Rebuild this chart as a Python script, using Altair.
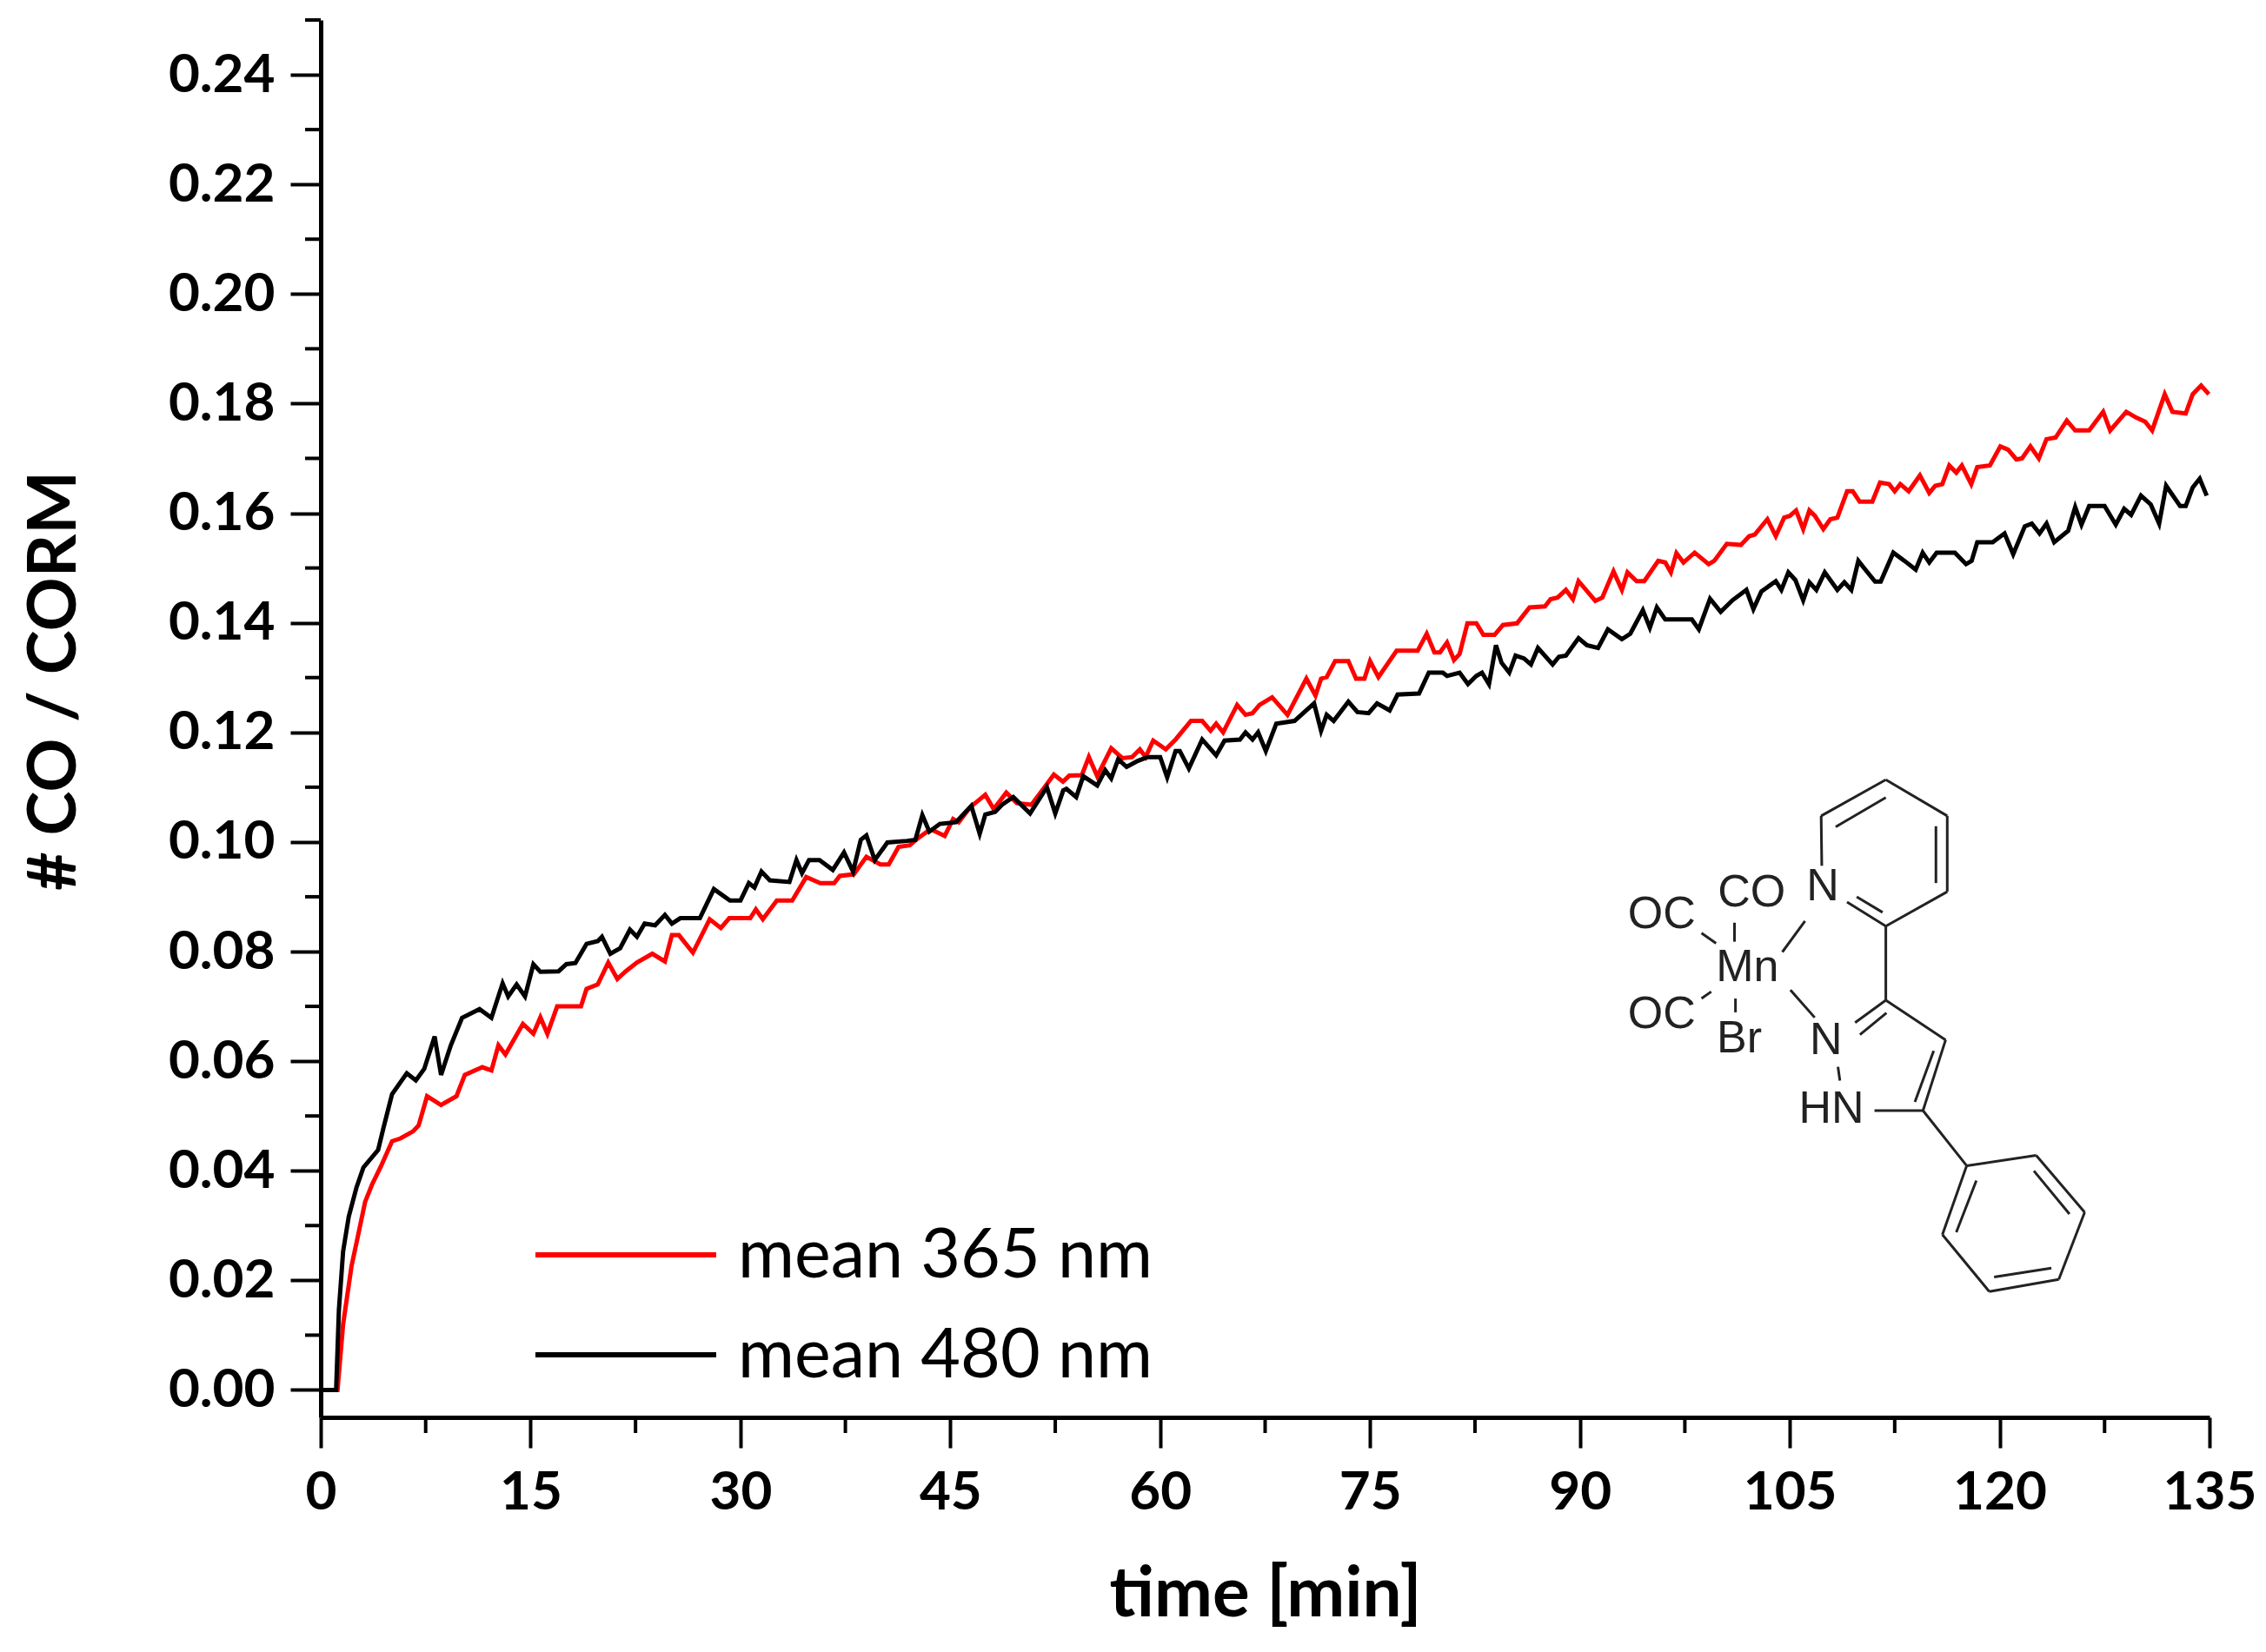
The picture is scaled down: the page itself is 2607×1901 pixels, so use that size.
import altair as alt
import pandas as pd

# ---------------- data ----------------
T_365 = [0, 1.2, 1.6, 2.2, 2.65, 3.17, 3.67, 4.3, 5.1, 5.7, 6.6, 7.0, 7.6, 8.6, 9.7, 10.3, 11.55, 12.2, 12.7, 13.2,
         14.45, 15.2, 15.7, 16.2, 16.9, 18.6, 19.0, 19.8, 20.55, 21.2, 21.8, 22.6, 23.7, 24.6, 25.1, 25.6, 26.6, 27.8,
         28.6, 29.2, 30.7, 31.1, 31.6, 32.6, 33.7, 34.7, 35.7, 36.7, 37.1, 38.1, 39.0, 40.0, 40.6, 41.3, 42.1, 42.7,
         43.3, 43.7, 44.6, 45.2, 45.6, 46.4, 47.5, 48.1, 49.0, 49.75, 50.8, 51.8, 52.4, 53.05, 53.5, 54.4, 54.9, 55.5,
         56.5, 57.3, 58.0, 58.55, 58.96, 59.5, 60.4, 61.1, 62.2, 63.0, 63.6, 64.0, 64.5, 65.5, 66.1, 66.6, 67.1, 68.0,
         69.1, 70.45, 71.1, 71.5, 71.9, 72.5, 73.45, 74.0, 74.6, 75.0, 75.6, 76.9, 78.4, 79.05, 79.6, 80.0, 80.5, 81.0,
         81.4, 81.96, 82.6, 83.1, 83.9, 84.5, 85.5, 86.4, 87.5, 87.9, 88.4, 89.0, 89.5, 89.9, 91.1, 91.6, 92.4, 93.0,
         93.4, 94.05, 94.6, 95.6, 96.1, 96.5, 96.9, 97.4, 98.2, 99.2, 99.6, 100.5, 101.5, 102.1, 102.5, 103.4, 104.0,
         104.6, 105.0, 105.45, 105.96, 106.4, 106.8, 107.4, 107.9, 108.4, 109.1, 109.5, 110.0, 110.9, 111.45, 112.1,
         112.5, 112.9, 113.5, 114.3, 114.97, 115.4, 115.9, 116.4, 116.9, 117.3, 117.97, 118.4, 119.3, 120.05, 120.6,
         121.2, 121.6, 122.2, 122.8, 123.35, 124.0, 124.8, 125.4, 126.4, 127.4, 127.9, 129.05, 129.8, 130.4, 130.9,
         131.8, 132.35, 133.3, 133.8, 134.4, 134.95]
V_365 = [0, 0, 0.012, 0.0226, 0.028, 0.0343, 0.0375, 0.0408, 0.0454, 0.0459, 0.0472, 0.0483, 0.0536, 0.052, 0.0536,
         0.0575, 0.0589, 0.0583, 0.0629, 0.0612, 0.0668, 0.065, 0.068, 0.065, 0.070, 0.070, 0.0732, 0.074, 0.078,
         0.075, 0.0764, 0.078, 0.0796, 0.0782, 0.083, 0.083, 0.0798, 0.0859, 0.0843, 0.0861, 0.0861, 0.0877, 0.0859,
         0.0893, 0.0893, 0.0936, 0.0925, 0.0925, 0.0938, 0.0941, 0.0973, 0.0959, 0.0959, 0.0991, 0.0994, 0.1007,
         0.1018, 0.1022, 0.1011, 0.1042, 0.1036, 0.1063, 0.1086, 0.106, 0.109, 0.1071, 0.1068, 0.1102, 0.1123, 0.111,
         0.1121, 0.1122, 0.1155, 0.112, 0.1171, 0.1153, 0.1155, 0.1169, 0.1155, 0.1185, 0.1169, 0.1187, 0.1221,
         0.1221, 0.1203, 0.1216, 0.120, 0.125, 0.1232, 0.1235, 0.125, 0.1264, 0.1232, 0.1298, 0.1267, 0.1298, 0.1301,
         0.133, 0.133, 0.1298, 0.1298, 0.133, 0.1301, 0.1349, 0.1349, 0.138, 0.1346, 0.1346, 0.1364, 0.1332, 0.1343,
         0.1399, 0.1399, 0.1378, 0.1378, 0.1396, 0.1399, 0.1428, 0.143, 0.1443, 0.1446, 0.146, 0.1443, 0.1476, 0.144,
         0.1446, 0.1494, 0.146, 0.1492, 0.1476, 0.1476, 0.1513, 0.151, 0.1492, 0.1527, 0.151, 0.1528, 0.1507, 0.1513,
         0.1544, 0.1542, 0.1558, 0.1561, 0.1589, 0.1558, 0.1592, 0.1595, 0.1605, 0.1571, 0.1605, 0.1595, 0.1571,
         0.1589, 0.1592, 0.164, 0.164, 0.1621, 0.1621, 0.1656, 0.1653, 0.164, 0.1653, 0.164, 0.1669, 0.1637, 0.165,
         0.1653, 0.1687, 0.1674, 0.1687, 0.1653, 0.1684, 0.1687, 0.1722, 0.1716, 0.1698, 0.170, 0.1722, 0.170,
         0.1735, 0.1738, 0.1769, 0.1751, 0.1751, 0.1785, 0.1751, 0.1785, 0.1774, 0.1767, 0.1751, 0.1817, 0.1785,
         0.1782, 0.1817, 0.1833, 0.1817]

T_480 = [0, 1.1, 1.3, 1.6, 2.0, 2.55, 3.05, 4.1, 4.5, 5.1, 6.15, 6.8, 7.4, 8.14, 8.6, 9.3, 10.1, 11.35, 12.2, 13.0,
         13.4, 14.0, 14.6, 15.2, 15.7, 17.0, 17.56, 18.2, 19.0, 19.8, 20.1, 20.7, 21.4, 22.1, 22.6, 23.15, 23.9, 24.6,
         25.1, 25.7, 27.1, 28.1, 29.25, 30.0, 30.6, 31.0, 31.5, 32.1, 33.5, 34.0, 34.4, 34.9, 35.65, 36.6, 37.4,
         38.05, 38.6, 39.0, 39.6, 40.5, 41.9, 42.5, 43.0, 43.5, 44.25, 45.4, 46.5, 47.1, 47.5, 48.2, 48.7, 49.5, 50.7,
         51.9, 52.5, 53.07, 53.3, 54.0, 54.5, 55.5, 56.07, 56.5, 57.0, 57.6, 58.4, 59.1, 60.0, 60.5, 61.1, 61.4,
         62.05, 63.0, 64.0, 64.6, 65.7, 66.1, 66.6, 67.0, 67.55, 68.3, 69.6, 71.0, 71.5, 71.9, 72.4, 73.45, 74.1,
         74.9, 75.5, 76.4, 76.97, 78.5, 79.2, 80.2, 80.5, 81.4, 82.0, 82.6, 83.0, 83.5, 84.0, 84.4, 84.95, 85.4, 86.0,
         86.5, 87.0, 88.05, 88.5, 89.0, 89.9, 90.5, 91.3, 92.0, 93.0, 93.6, 94.5, 95.0, 95.5, 96.1, 98.0, 98.5, 99.3,
         100.06, 100.9, 101.9, 102.4, 102.97, 104.0, 104.4, 104.9, 105.4, 105.96, 106.4, 106.9, 107.5, 108.4, 108.9,
         109.4, 109.9, 110.4, 111.1, 111.5, 112.4, 113.2, 114.0, 114.5, 114.97, 115.5, 116.8, 117.6, 118.0, 118.4,
         119.5, 120.35, 120.97, 121.8, 122.3, 122.85, 123.35, 123.9, 124.9, 125.4, 125.85, 126.4, 127.5, 128.3,
         128.9, 129.4, 130.1, 130.8, 131.4, 131.9, 132.9, 133.3, 133.8, 134.3, 134.8]
V_480 = [0, 0, 0.0147, 0.0253, 0.0316, 0.0369, 0.0406, 0.0438, 0.048, 0.054, 0.0578, 0.0565, 0.0586, 0.0645, 0.0575,
         0.0629, 0.0679, 0.0695, 0.0679, 0.0742, 0.0718, 0.074, 0.0718, 0.0777, 0.0763, 0.0764, 0.0777, 0.0779,
         0.0814, 0.0819, 0.0827, 0.0796, 0.0806, 0.084, 0.0827, 0.0851, 0.0848, 0.0867, 0.0851, 0.0861, 0.0861,
         0.0914, 0.0893, 0.0893, 0.0925, 0.0917, 0.0946, 0.093, 0.0927, 0.0967, 0.0943, 0.0967, 0.0967, 0.0949,
         0.0981, 0.0946, 0.1004, 0.1012, 0.0967, 0.0999, 0.1002, 0.1004, 0.1049, 0.1019, 0.1033, 0.1036, 0.1066,
         0.1015, 0.105, 0.1055, 0.1068, 0.1082, 0.1052, 0.11, 0.1052, 0.1094, 0.1097, 0.1082, 0.112, 0.1103, 0.1131,
         0.1116, 0.1151, 0.1137, 0.1148, 0.1155, 0.1155, 0.1118, 0.1166, 0.1166, 0.1134, 0.1187, 0.1158, 0.1185,
         0.1187, 0.12, 0.1187, 0.12, 0.1166, 0.1216, 0.1221, 0.1253, 0.1203, 0.1232, 0.1221, 0.1256, 0.1237, 0.1235,
         0.1253, 0.124, 0.1269, 0.1271, 0.1309, 0.1309, 0.1303, 0.1309, 0.1288, 0.1303, 0.1309, 0.1288, 0.1359,
         0.1327, 0.1309, 0.134, 0.1335, 0.1324, 0.1354, 0.1324, 0.1338, 0.134, 0.1372, 0.1359, 0.1354, 0.1388, 0.137,
         0.138, 0.1423, 0.1391, 0.1428, 0.1406, 0.1406, 0.1388, 0.1444, 0.142, 0.1441, 0.146, 0.1425, 0.1457, 0.1476,
         0.146, 0.1492, 0.1478, 0.1441, 0.1474, 0.146, 0.1492, 0.146, 0.1474, 0.146, 0.1513, 0.1497, 0.1475, 0.1475,
         0.1528, 0.1513, 0.1497, 0.1528, 0.151, 0.1528, 0.1528, 0.1507, 0.1513, 0.1547, 0.1547, 0.1563, 0.1525,
         0.1576, 0.1581, 0.1563, 0.1581, 0.1547, 0.1568, 0.1611, 0.1579, 0.1613, 0.1613, 0.1579, 0.1608, 0.1597,
         0.1632, 0.1616, 0.1581, 0.165, 0.1613, 0.1613, 0.1647, 0.1663, 0.1632]

SERIES = ["mean 365 nm", "mean 480 nm"]
COLORS = ["#ff0000", "#000000"]

X_MAJOR = [0, 15, 30, 45, 60, 75, 90, 105, 120, 135]
X_MINOR = [7.5, 22.5, 37.5, 52.5, 67.5, 82.5, 97.5, 112.5, 127.5]
Y_MAJOR = [0.00, 0.02, 0.04, 0.06, 0.08, 0.10, 0.12, 0.14, 0.16, 0.18, 0.20, 0.22, 0.24]
Y_MINOR = [0.01, 0.03, 0.05, 0.07, 0.09, 0.11, 0.13, 0.15, 0.17, 0.19, 0.21, 0.23, 0.25]

X_TITLE = "time [min]"
Y_TITLE = "# CO / CORM"

# inset structure, in the inset's own drawing units
MOL_LABELS = ["OC", "CO", "N", "Mn", "OC", "Br", "N", "HN"]
MOL_LX = [167, 445, 665, 432, 167, 407, 675, 692]
MOL_LY = [435, 372, 355, 588, 725, 797, 800, 1000]
MOL_BONDS = [
    (662, 295, 660, 150), (660, 150, 860, 45), (705, 182, 860, 97), (860, 45, 1050, 150),
    (1050, 150, 1050, 370), (1015, 180, 1015, 345), (1050, 370, 860, 470), (860, 470, 740, 400),
    (850, 430, 770, 385), (860, 470, 860, 685),
    (860, 685, 765, 750), (862, 722, 780, 785), (860, 685, 1045, 800), (1045, 800, 975, 1005),
    (1008, 832, 950, 980), (975, 1005, 825, 1005), (712, 878, 718, 918),
    (975, 1005, 1110, 1165), (1110, 1165, 1325, 1135), (1325, 1135, 1475, 1300), (1475, 1300, 1395, 1495),
    (1395, 1495, 1180, 1530), (1180, 1530, 1035, 1365), (1035, 1365, 1110, 1165),
    (1140, 1208, 1078, 1358), (1318, 1180, 1428, 1305), (1195, 1488, 1372, 1462),
    (540, 545, 610, 455), (565, 655, 640, 735), (392, 460, 392, 515), (290, 490, 335, 520),
    (290, 680, 320, 660), (395, 680, 395, 720),
]
# placement of the inset in chart units: origin (t, value) and size per drawing unit
MOL_T0, MOL_DT = 91.99, 0.02311
MOL_V0, MOL_DV = 0.11420, -0.0000629

# ---------------- layout ----------------
W, H = 2173, 1608
FONT = "Lato"
MOL_FONT = "Liberation Sans"

df = pd.concat([
    pd.DataFrame({"t": T_365, "v": V_365, "series": SERIES[0]}),
    pd.DataFrame({"t": T_480, "v": V_480, "series": SERIES[1]}),
])

xs = alt.Scale(domain=[0, 135], nice=False, zero=False)
ys = alt.Scale(domain=[-0.005, 0.25], nice=False, zero=False)

AX_X = alt.Axis(values=X_MAJOR, format="d", tickSize=35, tickWidth=4, domainWidth=5,
                domainColor="black", tickColor="black", grid=False,
                labelFont=FONT, labelFontSize=62, labelFontWeight="bold", labelColor="black",
                labelPadding=21, labelFlush=False, labelOverlap=False,
                titleFont=FONT, titleFontSize=80, titleFontWeight="bold", titleColor="black",
                titleBaseline="middle", titleY=204)
AX_Y = alt.Axis(values=Y_MAJOR, format=".2f", tickSize=35, tickWidth=4, domainWidth=5,
                domainColor="black", tickColor="black", grid=False,
                labelFont=FONT, labelFontSize=62, labelFontWeight="bold", labelColor="black",
                labelPadding=18, labelFlush=False, labelOverlap=False,
                titleFont=FONT, titleFontSize=77, titleFontWeight="bold", titleColor="black",
                titleBaseline="middle", titleX=-306, titleY=760)


def X(field):
    return alt.X(field, scale=xs, axis=AX_X, title=X_TITLE)


def Y(field):
    return alt.Y(field, scale=ys, axis=AX_Y, title=Y_TITLE)


lines = alt.Chart(df).mark_line(strokeWidth=5).encode(
    x=X("t:Q"), y=Y("v:Q"),
    color=alt.Color("series:N", scale=alt.Scale(domain=SERIES, range=COLORS), legend=None),
)

xminor = alt.Chart(pd.DataFrame({"t": X_MINOR})).mark_rule(strokeWidth=4, color="black").encode(
    x=X("t:Q"), y=alt.value(H), y2=alt.value(H + 18))
yminor = alt.Chart(pd.DataFrame({"v": Y_MINOR})).mark_rule(strokeWidth=4, color="black").encode(
    y=Y("v:Q"), x=alt.value(-18), x2=alt.value(0))

leg_layers = []
for i, (name, col) in enumerate(zip(SERIES, COLORS)):
    yy = 1421 + i * 115
    ld = pd.DataFrame({"label": [name]})
    leg_layers.append(alt.Chart(ld).mark_rule(strokeWidth=6, color=col).encode(
        x=alt.value(247), x2=alt.value(455), y=alt.value(yy)))
    leg_layers.append(alt.Chart(ld).mark_text(align="left", baseline="middle", font=FONT,
                                              fontSize=79, color="black").encode(
        x=alt.value(480), y=alt.value(yy + 2), text="label:N"))

# inset molecule placed in chart units
bonds_df = pd.DataFrame(MOL_BONDS, columns=["x1", "y1", "x2", "y2"])
bonds_df["t1"] = MOL_T0 + MOL_DT * bonds_df["x1"]
bonds_df["t2"] = MOL_T0 + MOL_DT * bonds_df["x2"]
bonds_df["v1"] = MOL_V0 + MOL_DV * bonds_df["y1"]
bonds_df["v2"] = MOL_V0 + MOL_DV * bonds_df["y2"]
labels_df = pd.DataFrame({"label": MOL_LABELS,
                          "t": [MOL_T0 + MOL_DT * x for x in MOL_LX],
                          "v": [MOL_V0 + MOL_DV * y for y in MOL_LY]})
bonds = alt.Chart(bonds_df).mark_rule(strokeWidth=3, color="#222222").encode(
    x=X("t1:Q"), x2="t2:Q", y=Y("v1:Q"), y2="v2:Q")
labels = alt.Chart(labels_df).mark_text(font=MOL_FONT, fontSize=52, color="#222222",
                                       align="center", baseline="middle").encode(
    x=X("t:Q"), y=Y("v:Q"), text="label:N")

chart = alt.layer(lines, xminor, yminor, *leg_layers, bonds, labels).properties(
    width=W, height=H,
    autosize=alt.AutoSizeParams(type="none"),
    padding={"left": 361, "top": 15, "right": 57, "bottom": 262},
    background="white",
).configure_view(strokeWidth=0)

chart.save("out.html", embed_options={"renderer": "svg", "actions": False})
